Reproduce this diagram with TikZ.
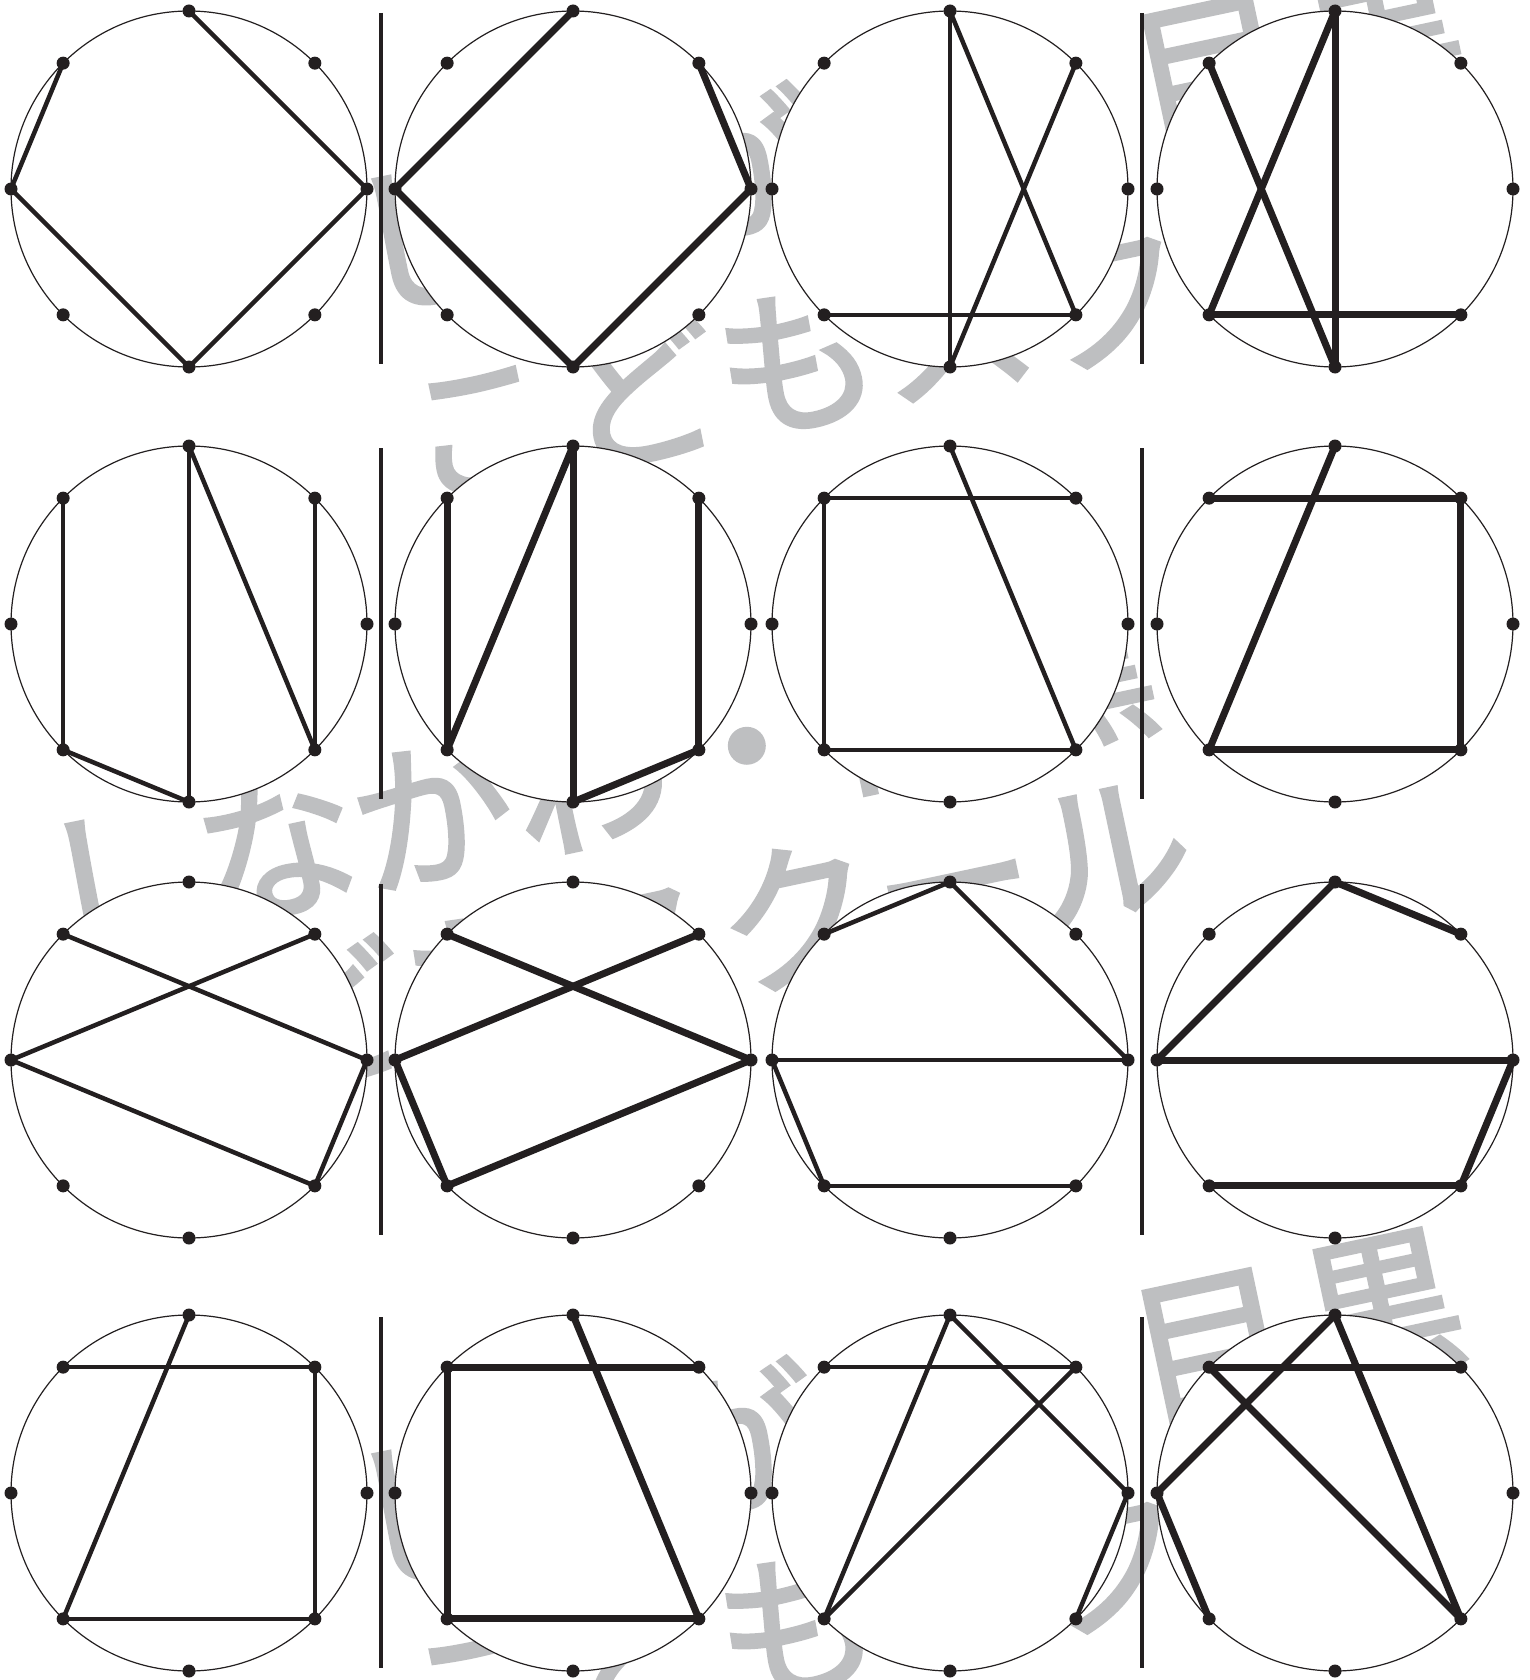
\documentclass[tikz,border=0pt]{standalone}
\usepackage{fontspec}
\newfontfamily\jpfont{Noto Sans CJK JP}[FakeBold=2.5]
\definecolor{ink}{HTML}{231F20}
\definecolor{wmgray}{HTML}{BEBFC1}
\tikzset{
  thinchord/.style={draw=ink, line width=4.5pt, line cap=round},
  thickchord/.style={draw=ink, line width=7pt, line cap=round},
  ring/.style={circle, draw=ink, line width=1.2pt, fill=white, minimum size=356pt, inner sep=0pt, outer sep=0pt},
  dotmark/.style={fill=ink, draw=none},
  sepline/.style={draw=ink, line width=4.5pt},
  wmtext/.style={text=wmgray, font=\jpfont\fontsize{160}{160}\selectfont, inner sep=0pt, rotate=12, anchor=base west}
}
\begin{document}
\begin{tikzpicture}[x=1pt,y=-1pt]
\useasboundingbox (0,0) rectangle (1529,1680);
\fill[white] (0,0) rectangle (1529,1680);
% watermark (behind the panels)
\node[wmtext] (wmA1) at (362,310) {しながわ・目\kern15pt 黒};
\node[wmtext] (wmA2) at (417,503) {こどもスクール};
\node[wmtext] (wmB1) at (55,955) {しながわ・目\kern15pt 黒};
\node[wmtext] (wmB2) at (105,1125) {こどもスクール};
\node[wmtext] (wmC1) at (362,1585) {しながわ・目\kern15pt 黒};
\node[wmtext] (wmC2) at (417,1768) {こどもスクール};
% circles and their eight points
\foreach \r/\cy in {1/189,2/624,3/1060,4/1493}{
  \foreach \c/\cx in {1/189,2/573,3/950,4/1335}{
    \node[ring] (o\r\c) at (\cx,\cy) {};
    \foreach \k in {0,...,7}{
      \coordinate (p\r\c\k) at ({\cx+178*cos(45*\k)},{\cy-178*sin(45*\k)});
    }
  }
}
% chords
\foreach \r/\c/\sty/\edges in {
  1/1/thinchord/{2/0,3/4,4/6,6/0},
  1/2/thickchord/{2/4,1/0,4/6,6/0},
  1/3/thinchord/{2/6,2/7,1/6,5/7},
  1/4/thickchord/{3/6,2/5,2/6,5/7},
  2/1/thinchord/{3/5,2/6,2/7,1/7,5/6},
  2/2/thickchord/{3/5,2/5,2/6,1/7,6/7},
  2/3/thinchord/{3/1,3/5,5/7,2/7},
  2/4/thickchord/{3/1,1/7,5/7,2/5},
  3/1/thinchord/{3/0,1/4,4/7,0/7},
  3/2/thickchord/{3/0,1/4,4/5,0/5},
  3/3/thinchord/{3/2,2/0,4/0,4/5,5/7},
  3/4/thickchord/{4/2,2/1,4/0,0/7,5/7},
  4/1/thinchord/{3/1,2/5,1/7,5/7},
  4/2/thickchord/{3/1,3/5,2/7,5/7},
  4/3/thinchord/{3/1,2/5,2/0,1/5,0/7},
  4/4/thickchord/{3/1,2/4,2/7,3/7,4/5}}{
  \foreach \a/\b in \edges { \draw[\sty] (p\r\c\a) -- (p\r\c\b); }
}
% dots
\foreach \r in {1,...,4}{
  \foreach \c in {1,...,4}{
    \foreach \k in {0,...,7}{
      \fill[dotmark] (p\r\c\k) circle (6.5pt);
    }
  }
}
% separators
\foreach \r/\cy in {1/189,2/624,3/1060,4/1493}{
  \coordinate (sa\r) at (381,\cy-176);
  \coordinate (sb\r) at (381,\cy+175);
  \coordinate (sc\r) at (1142,\cy-176);
  \coordinate (sd\r) at (1142,\cy+175);
  \draw[sepline] (sa\r) -- (sb\r);
  \draw[sepline] (sc\r) -- (sd\r);
}
\end{tikzpicture}
\end{document}
